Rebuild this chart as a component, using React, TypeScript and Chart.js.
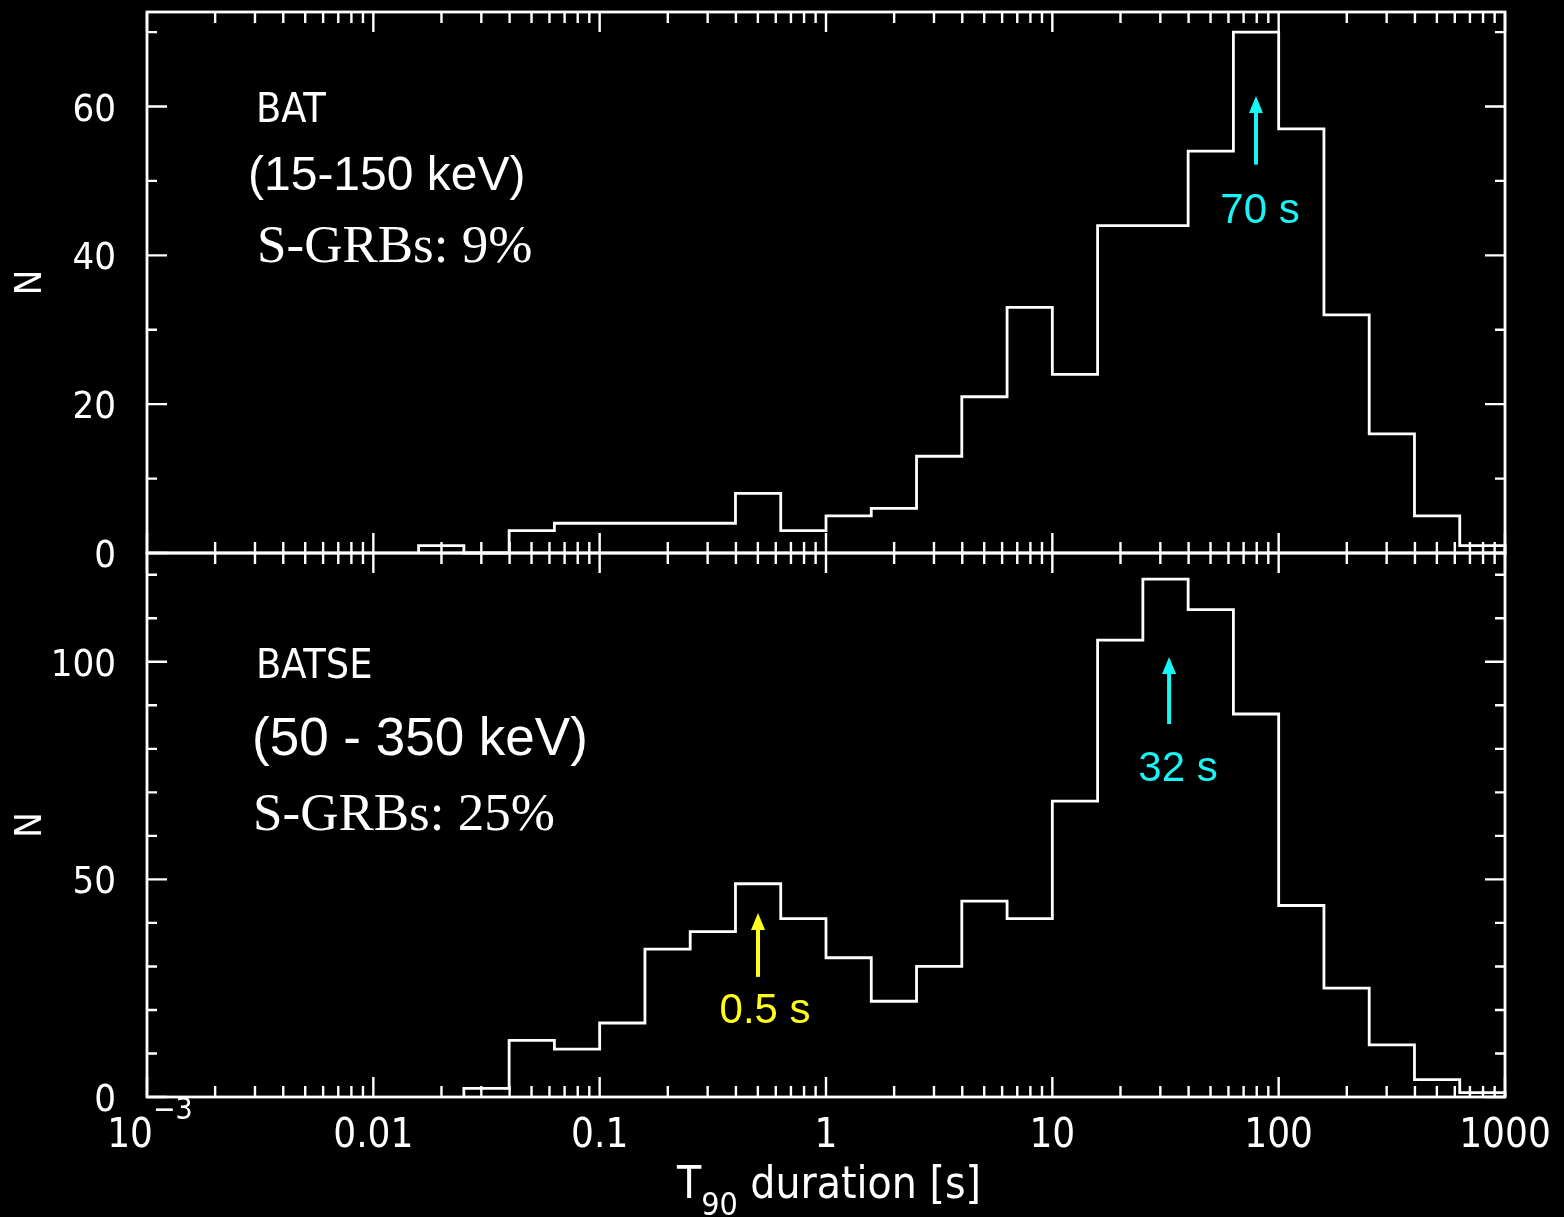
import React, { useEffect, useRef } from "react";
import { Chart, registerables } from "chart.js";

Chart.register(...registerables);

// ---------------- data ----------------
const binEdges = [
  0.01585, 0.02512, 0.03981, 0.0631, 0.1, 0.1585, 0.2512, 0.3981, 0.631, 1,
  1.585, 2.512, 3.981, 6.31, 10, 15.85, 25.12, 39.81, 63.1, 100, 158.5, 251.2,
  398.1, 631, 1000,
];
const batCounts = [
  1, 0, 3, 4, 4, 4, 4, 8, 3, 5, 6, 13, 21, 33, 24, 44, 44, 54, 70, 57, 32, 16, 5, 1,
];
const batseCounts = [
  0, 2, 13, 11, 17, 34, 38, 49, 41, 32, 22, 30, 45, 41, 68, 105, 119, 112, 88, 44, 25, 12, 4, 1,
];
const xDecades = [0.001, 0.01, 0.1, 1, 10, 100, 1000];
const xTickLabels = ["10", "0.01", "0.1", "1", "10", "100", "1000"];
const xFirstExponent = "\u22123";
const batYMajor = [0, 20, 40, 60];
const batseYMajor = [0, 50, 100];
const yMinorStep = 10;
const batYMax = 72.7;
const batseYMax = 125;
const batLines = ["BAT", "(15-150 keV)", "S-GRBs: 9%"];
const batseLines = ["BATSE", "(50 - 350 keV)", "S-GRBs: 25%"];
// arrows: x position, tail and tip values, label, label x / baseline values
const batArrows = [{ x: 79.4, tail: 52.2, tip: 61.4, label: "70 s", lx: 82.7, ly: 44.3, kind: "cyan" }];
const batseArrows = [
  { x: 32.8, tail: 85.7, tip: 101.1, label: "32 s", lx: 35.9, ly: 72.6, kind: "cyan" },
  { x: 0.5008, tail: 27.6, tip: 42.3, label: "0.5 s", lx: 0.538, ly: 17.0, kind: "yellow" },
];

// ---------------- styles ----------------
const HERSHEY = '"DejaVu Sans Condensed", "DejaVu Sans", sans-serif';
const ARIAL = '"Liberation Sans", Arial, sans-serif';
const TIMES = '"Liberation Serif", "Times New Roman", serif';
const COLORS: Record<string, string> = { cyan: "#1af4f4", yellow: "#ffff1a" };
const W = 1564;
const H = 1217;

function histPoints(edges: number[], counts: number[]) {
  const first = counts.findIndex((c) => c > 0);
  const pts: { x: number; y: number }[] = [{ x: edges[first], y: 0 }];
  for (let i = first; i < counts.length; i++) {
    pts.push({ x: edges[i], y: counts[i] });
    pts.push({ x: edges[i + 1], y: counts[i] });
  }
  pts.push({ x: edges[counts.length], y: 0 });
  return pts;
}

type PanelCfg = {
  counts: number[];
  yMax: number;
  yMajor: number[];
  padTop: number;
  padBottom: number;
  lines: string[];
  lineFonts: string[];
  lineX: number[];
  lineY: number[];
  arrows: typeof batArrows;
  showXLabels: boolean;
};

function makePlugin(cfg: PanelCfg) {
  return {
    id: "pgframe",
    afterDraw(chart: any) {
      const { ctx, chartArea: a, scales } = chart;
      const xs = scales.x;
      const ys = scales.y;
      ctx.save();
      ctx.strokeStyle = "#ffffff";
      ctx.fillStyle = "#ffffff";
      ctx.lineWidth = 2.8;
      ctx.lineCap = "square";
      ctx.strokeRect(a.left, a.top, a.right - a.left, a.bottom - a.top);

      // x ticks
      ctx.lineWidth = 2.4;
      ctx.lineCap = "butt";
      const minors: number[] = [];
      for (let i = 0; i < xDecades.length - 1; i++)
        for (let m = 2; m <= 9; m++) minors.push(xDecades[i] * m);
      const xt = (v: number, len: number) => {
        const px = xs.getPixelForValue(v);
        ctx.beginPath();
        ctx.moveTo(px, a.top);
        ctx.lineTo(px, a.top + len);
        ctx.moveTo(px, a.bottom);
        ctx.lineTo(px, a.bottom - len);
        ctx.stroke();
      };
      xDecades.forEach((v) => xt(v, 20));
      minors.forEach((v) => xt(v, 11));

      // y ticks
      for (let v = 0; v <= cfg.yMax; v += yMinorStep) {
        const len = cfg.yMajor.includes(v) ? 20 : 10;
        const py = ys.getPixelForValue(v);
        ctx.beginPath();
        ctx.moveTo(a.left, py);
        ctx.lineTo(a.left + len, py);
        ctx.moveTo(a.right, py);
        ctx.lineTo(a.right - len, py);
        ctx.stroke();
      }

      // y labels
      ctx.font = `38px ${HERSHEY}`;
      ctx.textAlign = "right";
      ctx.textBaseline = "alphabetic";
      cfg.yMajor.forEach((v) => {
        ctx.fillText(String(v), a.left - 31, ys.getPixelForValue(v) + 14);
      });

      // y title
      ctx.save();
      ctx.translate(a.left - 116, (a.top + a.bottom) / 2);
      ctx.rotate(-Math.PI / 2);
      ctx.textAlign = "center";
      ctx.textBaseline = "middle";
      ctx.font = `38px ${HERSHEY}`;
      ctx.fillText("N", 0, 0);
      ctx.restore();

      // x labels + title
      if (cfg.showXLabels) {
        ctx.textBaseline = "alphabetic";
        xDecades.forEach((v, i) => {
          const px = xs.getPixelForValue(v);
          if (i === 0) {
            ctx.textAlign = "right";
            ctx.font = `40px ${HERSHEY}`;
            ctx.fillText(xTickLabels[i], px + 6, a.bottom + 50);
            ctx.textAlign = "left";
            ctx.font = `30px ${HERSHEY}`;
            ctx.fillText(xFirstExponent, px + 6, a.bottom + 22);
          } else {
            ctx.textAlign = "center";
            ctx.font = `40px ${HERSHEY}`;
            ctx.fillText(xTickLabels[i], px, a.bottom + 50);
          }
        });
        const big = `44px ${HERSHEY}`;
        const small = `32px ${HERSHEY}`;
        const p1 = "T";
        const p2 = "90";
        const p3 = " duration [s]";
        ctx.font = big;
        const w1 = ctx.measureText(p1).width;
        const w3 = ctx.measureText(p3).width;
        ctx.font = small;
        const w2 = ctx.measureText(p2).width;
        const total = w1 + w2 + w3;
        let x0 = (a.left + a.right) / 2 + 3 - total / 2;
        const base = a.bottom + 101;
        ctx.textAlign = "left";
        ctx.font = big;
        ctx.fillText(p1, x0, base);
        x0 += w1;
        ctx.font = small;
        ctx.fillText(p2, x0, base + 17);
        x0 += w2;
        ctx.font = big;
        ctx.fillText(p3, x0, base);
      }

      // panel texts
      ctx.textAlign = "left";
      ctx.textBaseline = "alphabetic";
      cfg.lines.forEach((t, i) => {
        ctx.font = cfg.lineFonts[i];
        ctx.fillText(t, a.left + cfg.lineX[i], a.top + cfg.lineY[i]);
      });

      // arrows
      cfg.arrows.forEach((ar) => {
        const col = COLORS[ar.kind];
        const px = xs.getPixelForValue(ar.x);
        const pTail = ys.getPixelForValue(ar.tail);
        const pTip = ys.getPixelForValue(ar.tip);
        ctx.strokeStyle = col;
        ctx.fillStyle = col;
        ctx.lineWidth = 4;
        ctx.beginPath();
        ctx.moveTo(px, pTail);
        ctx.lineTo(px, pTip + 15);
        ctx.stroke();
        ctx.beginPath();
        ctx.moveTo(px, pTip);
        ctx.lineTo(px - 7, pTip + 17);
        ctx.lineTo(px + 7, pTip + 17);
        ctx.closePath();
        ctx.fill();
        ctx.font = `42px ${ARIAL}`;
        ctx.textAlign = "center";
        ctx.fillText(ar.label, xs.getPixelForValue(ar.lx), ys.getPixelForValue(ar.ly));
      });
      ctx.restore();
    },
  };
}

function makeConfig(cfg: PanelCfg): any {
  return {
    type: "line",
    data: {
      datasets: [
        {
          data: histPoints(binEdges, cfg.counts),
          borderColor: "#ffffff",
          borderWidth: 2.8,
          pointRadius: 0,
          fill: false,
          tension: 0,
          borderJoinStyle: "miter",
          clip: 4,
        },
      ],
    },
    options: {
      animation: false,
      responsive: false,
      devicePixelRatio: 1,
      events: [],
      layout: { padding: { left: 147, right: W - 1505, top: cfg.padTop, bottom: cfg.padBottom } },
      scales: {
        x: { type: "logarithmic", min: 0.001, max: 1000, display: false },
        y: { type: "linear", min: 0, max: cfg.yMax, display: false },
      },
      plugins: { legend: { display: false }, tooltip: { enabled: false } },
    },
    plugins: [makePlugin(cfg)],
  };
}

const topPanel: PanelCfg = {
  counts: batCounts,
  yMax: batYMax,
  yMajor: batYMajor,
  padTop: 12,
  padBottom: H - 553,
  lines: batLines,
  lineFonts: [`41px ${HERSHEY}`, `48px ${ARIAL}`, `53px ${TIMES}`],
  lineX: [109, 101, 110],
  lineY: [110, 178, 250],
  arrows: batArrows,
  showXLabels: false,
};

const bottomPanel: PanelCfg = {
  counts: batseCounts,
  yMax: batseYMax,
  yMajor: batseYMajor,
  padTop: 553,
  padBottom: H - 1097,
  lines: batseLines,
  lineFonts: [`41px ${HERSHEY}`, `53px ${ARIAL}`, `53px ${TIMES}`],
  lineX: [109, 105, 106],
  lineY: [125, 202, 277],
  arrows: batseArrows,
  showXLabels: true,
};

export default function App() {
  const topRef = useRef<HTMLCanvasElement>(null);
  const botRef = useRef<HTMLCanvasElement>(null);
  useEffect(() => {
    const c1 = new Chart(topRef.current as HTMLCanvasElement, makeConfig(topPanel));
    const c2 = new Chart(botRef.current as HTMLCanvasElement, makeConfig(bottomPanel));
    return () => {
      c1.destroy();
      c2.destroy();
    };
  }, []);
  const cs: React.CSSProperties = { position: "absolute", left: 0, top: 0, width: W, height: H };
  return (
    <div
      style={{ position: "fixed", left: 0, top: 0, width: W, height: H, background: "#000", overflow: "hidden" }}
    >
      <canvas ref={topRef} width={W} height={H} style={cs} />
      <canvas ref={botRef} width={W} height={H} style={cs} />
    </div>
  );
}
